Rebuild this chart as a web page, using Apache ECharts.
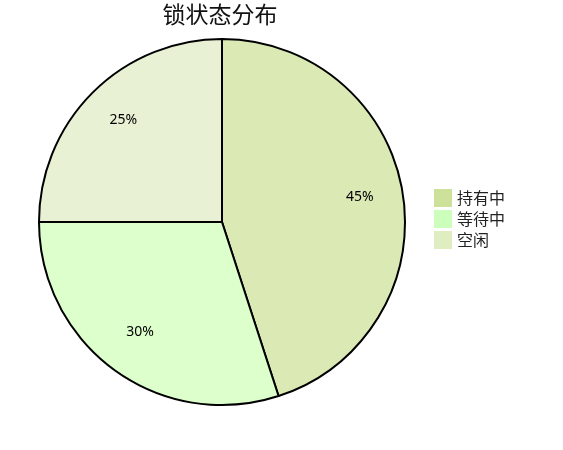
<!DOCTYPE html>
<html><head><meta charset="utf-8">
<script src="https://cdn.jsdelivr.net/npm/echarts@6/dist/echarts.min.js"></script>
<style>html,body{margin:0;padding:0;background:#fff}#c{width:563px;height:450px}</style>
</head><body><div id="c"></div>
<script>
var categories = ['持有中', '等待中', '空闲'];
var values = [45, 30, 25];
var legendColors = ['#cde19a', '#ccffbb', '#e0edc0'];
var sliceColors = ['#dbeab5', '#dcffcc', '#e8f1d4'];

var data = categories.map(function (n, i) {
  return { name: n, value: values[i], itemStyle: { color: sliceColors[i] } };
});
var chart = echarts.init(document.getElementById('c'));
chart.setOption({
  animation: false,
  title: {
    text: '锁状态分布', left: 220, top: 3, textAlign: 'center', padding: 0,
    textStyle: { fontSize: 23, fontWeight: 'normal', color: '#111', fontFamily: 'Noto Sans CJK SC' }
  },
  legend: {
    orient: 'vertical', left: 434, top: 189, padding: 0, itemWidth: 18, itemHeight: 18, itemGap: 3,
    icon: 'rect',
    data: categories.map(function (n, i) { return { name: n, itemStyle: { color: legendColors[i], borderWidth: 0 } }; }),
    textStyle: { fontSize: 16, color: '#222', fontFamily: 'Noto Sans CJK SC' }
  },
  series: [{
    type: 'pie', center: [222, 222], radius: [0, 183], startAngle: 90, clockwise: true,
    data: data,
    itemStyle: { borderColor: '#000', borderWidth: 2 },
    label: { show: false }, labelLine: { show: false },
    emphasis: { disabled: true }
  }, {
    type: 'pie', center: [222, 222], radius: [90, 183], startAngle: 90, clockwise: true,
    data: data, silent: true, legendHoverLink: false,
    itemStyle: { color: 'rgba(0,0,0,0)', borderWidth: 0, opacity: 0 },
    label: { show: true, position: 'inside', formatter: '{c}%', fontSize: 14, color: '#000', fontFamily: 'Noto Sans', opacity: 1, offset: [0, -3] },
    labelLine: { show: false },
    emphasis: { disabled: true }
  }]
});
</script></body></html>
